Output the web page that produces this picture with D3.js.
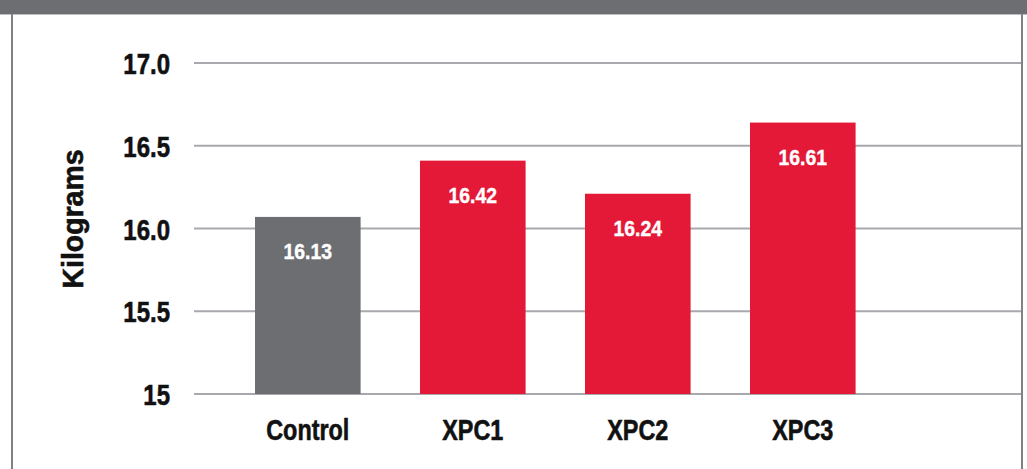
<!DOCTYPE html>
<html><head><meta charset="utf-8">
<script src="https://cdn.jsdelivr.net/npm/d3@7"></script>
<style>
html,body{margin:0;padding:0;background:#fff;}
text{font-family:"Liberation Sans",Arial,sans-serif;font-weight:bold;}
</style></head>
<body><svg id="c" width="1027" height="469"></svg>
<script>
const categories = ["Control", "XPC1", "XPC2", "XPC3"];
const barValues = [16.07, 16.41, 16.21, 16.64];
const valueLabels = ["16.13", "16.42", "16.24", "16.61"];
const barColors = ["#6d6e71", "#e31937", "#e31937", "#e31937"];
const tickValues = [15, 15.5, 16, 16.5, 17];
const tickLabels = ["15", "15.5", "16.0", "16.5", "17.0"];
const yTitle = "Kilograms";

const svg = d3.select("#c");
const W = 1027, H = 469;

// frame
svg.append("rect").attr("x",0).attr("y",0).attr("width",W).attr("height",14).attr("fill","#6d6e71");
svg.append("line").attr("x1",0).attr("x2",W).attr("y1",14.5).attr("y2",14.5).attr("stroke","#bcbec0").attr("stroke-width",1);
svg.append("line").attr("x1",12).attr("x2",12).attr("y1",14).attr("y2",H).attr("stroke","#808285").attr("stroke-width",2);
svg.append("line").attr("x1",1022).attr("x2",1022).attr("y1",14).attr("y2",H).attr("stroke","#808285").attr("stroke-width",2);

const y = d3.scaleLinear().domain([15, 17]).range([394, 63]);
const x = d3.scaleBand().domain(categories).range([225.3, 885.3]).paddingInner(0.36).paddingOuter(0.18);

// gridlines
svg.append("g").selectAll("line").data(tickValues).join("line")
  .attr("x1",194).attr("x2",1021)
  .attr("y1",d=>y(d)).attr("y2",d=>y(d))
  .attr("stroke","#a7a9ac").attr("stroke-width",2);

// tick labels
svg.append("g").selectAll("text").data(tickValues).join("text")
  .attr("transform",d=>`translate(170,${y(d)+11}) scale(0.8,1)`)
  .attr("text-anchor","end").attr("font-size",30).attr("fill","#111")
  .attr("stroke","#111").attr("stroke-width",0.6)
  .text((d,i)=>tickLabels[i]);

// y title
svg.append("text").attr("transform","translate(83,219) rotate(-90) scale(0.98,1)")
  .attr("text-anchor","middle").attr("font-size",29).attr("fill","#111")
  .attr("stroke","#111").attr("stroke-width",0.6).text(yTitle);

// bars
svg.append("g").selectAll("rect").data(categories).join("rect")
  .attr("x",d=>x(d)).attr("width",x.bandwidth())
  .attr("y",(d,i)=>y(barValues[i])).attr("height",(d,i)=>y(15)-y(barValues[i]))
  .attr("fill",(d,i)=>barColors[i]);

// value labels
svg.append("g").selectAll("text").data(categories).join("text")
  .attr("transform",(d,i)=>`translate(${x(d)+x.bandwidth()/2},${y(barValues[i])+42}) scale(0.88,1)`)
  .attr("text-anchor","middle").attr("font-size",22).attr("fill","#fff")
  .attr("stroke","#fff").attr("stroke-width",0.4)
  .text((d,i)=>valueLabels[i]);

// category labels
svg.append("g").selectAll("text").data(categories).join("text")
  .attr("transform",d=>`translate(${x(d)+x.bandwidth()/2},440) scale(0.78,1)`)
  .attr("text-anchor","middle").attr("font-size",30).attr("fill","#111")
  .attr("stroke","#111").attr("stroke-width",0.6)
  .text(d=>d);
</script></body></html>
